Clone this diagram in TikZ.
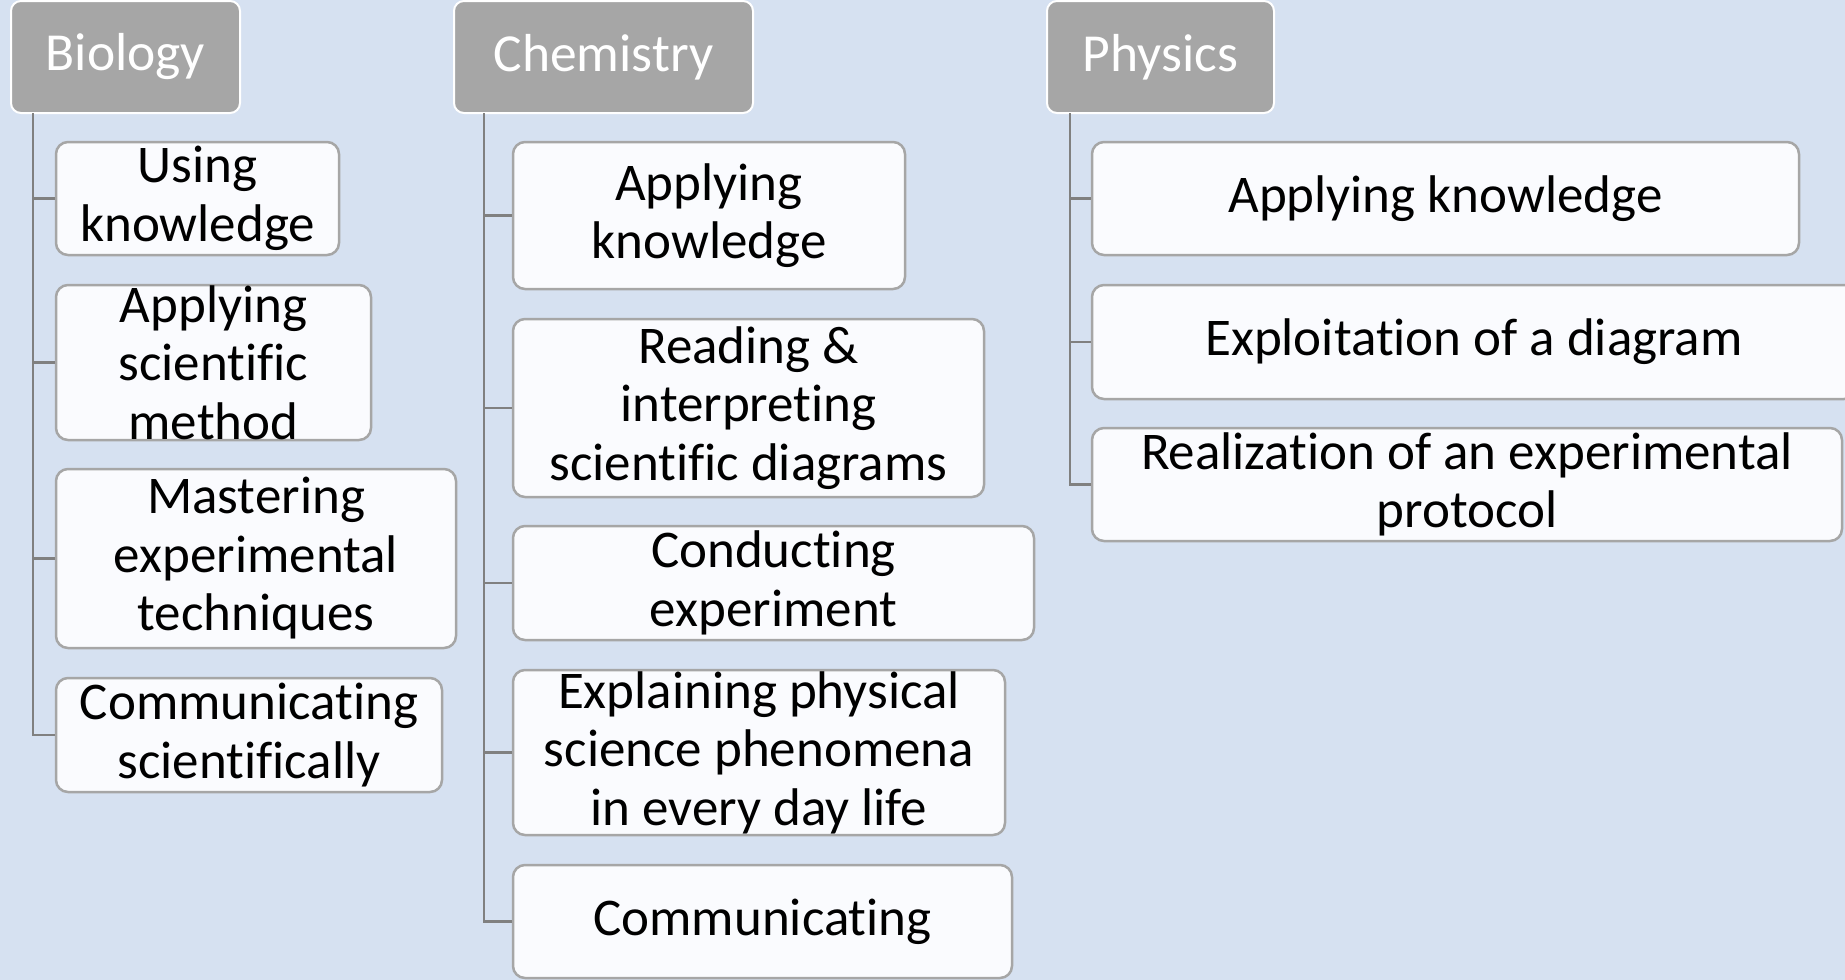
\documentclass[tikz,border=0pt]{standalone}
\usepackage{fontspec}
\setmainfont[Ligatures=NoCommon]{Carlito}
\definecolor{bgc}{RGB}{214,225,241}
\definecolor{hdfill}{RGB}{166,166,166}
\definecolor{chfill}{RGB}{250,251,254}
\definecolor{chdraw}{RGB}{166,166,166}
\definecolor{linec}{RGB}{128,128,128}
\tikzset{
  header/.style={draw=white, line width=2pt, fill=hdfill, rounded corners=10pt,
    text=white, font=\fontsize{53.5}{60}\selectfont, inner sep=0pt},
  childbox/.style={draw=chdraw, line width=2.5pt, fill=chfill, rounded corners=12pt,
    text=black, font=\fontsize{53}{58.5}\selectfont, align=center, inner sep=0pt},
  conn/.style={draw=linec, line width=2.2pt}
}
\newcommand{\boxat}[6]{% name, x1, y1, x2, y2, text
  \node[childbox, minimum width={#4-#2}, minimum height={#5-#3}] (#1) at ({(#2+#4)/2},{(#3+#5)/2}) {#6};}
\newcommand{\headat}[6]{%
  \node[header, minimum width={#4-#2}, minimum height={#5-#3}] (#1) at ({(#2+#4)/2},{(#3+#5)/2}) {#6};}
\begin{document}
\begin{tikzpicture}[x=1pt,y=-1pt]
\fill[bgc] (0,0) rectangle (1845,980);
\useasboundingbox (0,0) rectangle (1845,980);

% Biology
\headat{bio}{11}{1}{240}{113}{Biology}
\coordinate (bl) at (33,113);
\boxat{b1}{56}{142}{339}{255}{Using\\knowledge}
\boxat{b2}{56}{285}{371}{440}{Applying\\scientific\\method}
\boxat{b3}{56}{469}{456}{648}{Mastering\\experimental\\techniques}
\boxat{b4}{56}{678}{442}{792}{Communicating\\scientifically}

% Chemistry
\headat{chem}{454}{1}{753}{113}{Chemistry}
\coordinate (cl) at (484,113);
\boxat{c1}{513}{142}{905}{289}{Applying\\knowledge}
\boxat{c2}{513}{319}{984}{497}{Reading \&\\interpreting\\scientific diagrams}
\boxat{c3}{513}{526}{1034}{640}{Conducting\\experiment}
\boxat{c4}{513}{670}{1005}{835}{Explaining physical\\science phenomena\\in every day life}
\boxat{c5}{513}{865}{1012}{978}{Communicating}

% Physics
\headat{phys}{1047}{1}{1274}{113}{Physics}
\coordinate (pl) at (1070,113);
\boxat{p1}{1092}{142}{1799}{255}{Applying knowledge}
\boxat{p2}{1092}{285}{1856}{399}{Exploitation of a diagram}
\boxat{p3}{1092}{428}{1842}{541}{Realization of an experimental\\protocol}

% connectors
\draw[conn] (bl) |- (b4.west);
\foreach \n in {b1,b2,b3} \draw[conn] (\n.west) -- (\n.west -| bl);
\draw[conn] (cl) |- (c5.west);
\foreach \n in {c1,c2,c3,c4} \draw[conn] (\n.west) -- (\n.west -| cl);
\draw[conn] (pl) |- (p3.west);
\foreach \n in {p1,p2} \draw[conn] (\n.west) -- (\n.west -| pl);
\end{tikzpicture}
\end{document}
